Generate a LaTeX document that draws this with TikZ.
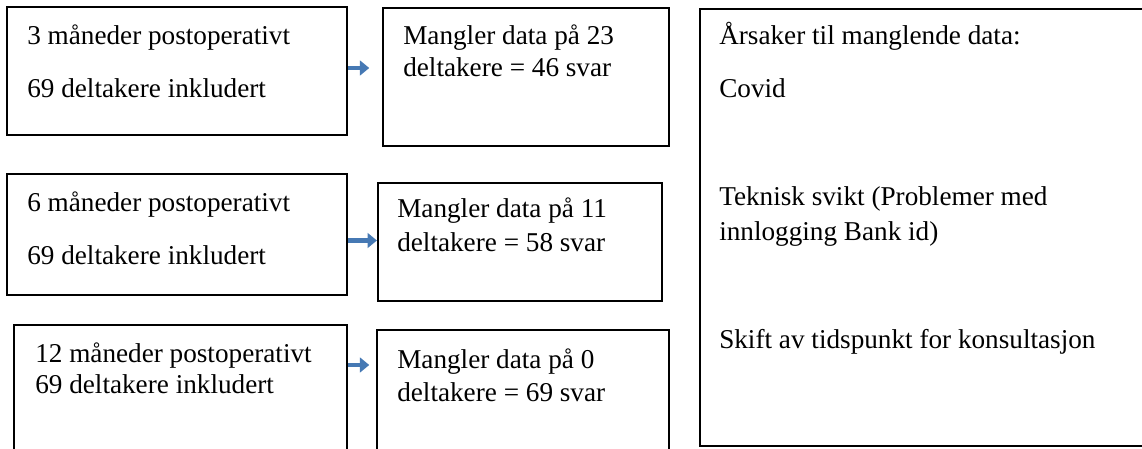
\documentclass[tikz,border=0pt]{standalone}
\usepackage{fontspec}
\setmainfont{Liberation Serif}
\usetikzlibrary{arrows.meta,fit}
\definecolor{arrblue}{RGB}{70,121,180}
\begin{document}
\begin{tikzpicture}[x=0.75pt,y=-0.75pt,
  box/.style={draw=black,line width=1.6pt,inner sep=0pt,rectangle},
  txt/.style={anchor=base west,inner sep=0pt,font=\fontsize{20.4}{24}\selectfont},
  arr/.style={draw=arrblue,line width=3.6pt,-{Triangle[length=7pt,width=11pt]}}]
\useasboundingbox (0,0) rectangle (1142,449);
\clip (0,0) rectangle (1142,449);
% boxes
\node[box,fit={(7,7) (347,135)}] (b1) {};
\node[box,fit={(383,8) (669,146)}] (b1b) {};
\node[box,fit={(7,174) (347,295)}] (b2) {};
\node[box,fit={(378,183) (662,301)}] (b2b) {};
\node[box,fit={(14,325) (347,480)}] (b3) {};
\node[box,fit={(377,330) (669,480)}] (b3b) {};
\node[box,fit={(700,9) (1160,446)}] (r) {};
% texts
\node[txt] (t1a) at (27,45) {3 måneder postoperativt};
\node[txt] (t1b) at (27,98) {69 deltakere inkludert};
\node[txt] (t1c) at (403,45) {Mangler data på 23};
\node[txt] (t1d) at (403,77) {deltakere = 46 svar};
\node[txt] (t2a) at (27,211) {6 måneder postoperativt};
\node[txt] (t2b) at (27,264) {69 deltakere inkludert};
\node[txt] (t2c) at (397,217) {Mangler data på 11};
\node[txt] (t2d) at (397,251) {deltakere = 58 svar};
\node[txt] (t3a) at (35,362) {12 måneder postoperativt};
\node[txt] (t3b) at (35,393) {69 deltakere inkludert};
\node[txt] (t3c) at (397,368) {Mangler data på 0};
\node[txt] (t3d) at (397,401) {deltakere = 69 svar};
\node[txt] (ra) at (719,45) {Årsaker til manglende data:};
\node[txt] (rb) at (719,98) {Covid};
\node[txt] (rc) at (719,205) {Teknisk svikt (Problemer med};
\node[txt] (rd) at (719,240) {innlogging Bank id)};
\node[txt] (re) at (719,348) {Skift av tidspunkt for konsultasjon};
% arrows
\draw[arr,shorten >=9.5pt] ([yshift=2.25pt]b1.east) -- ([yshift=2.25pt]b1.east -| b1b.west);
\draw[arr] ([yshift=-4.5pt]b2.east) -- ([yshift=-4.5pt]b2.east -| b2b.west);
\draw[arr,shorten >=5pt] (b3.east |- t3c.base) ++(0,-3) coordinate (c3) -- (c3 -| b3b.west);
\end{tikzpicture}
\end{document}
